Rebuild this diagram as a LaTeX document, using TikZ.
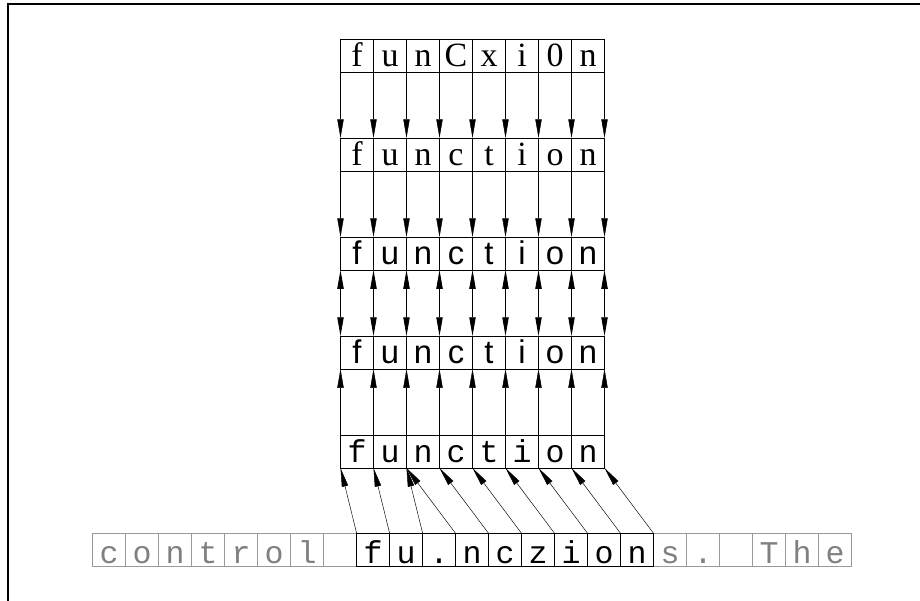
\documentclass[tikz,border=0pt]{standalone}
\usepackage{fontspec}
\usepackage{tikz}
\usetikzlibrary{arrows.meta, positioning}
\newfontfamily\serifrm{Liberation Serif}
\newfontfamily\sansrm{Liberation Sans}
\newfontfamily\monorm{Liberation Mono}

\begin{document}
\begin{tikzpicture}[
    x=0.03cm, y=-0.03cm,
    node distance=1.98cm and 0pt,
    cell/.style={rectangle, draw=black, line width=0.8pt, minimum width=0.99cm, minimum height=0.99cm, inner sep=0pt, outer sep=0pt, text height=0.83cm, text depth=0.16cm},
    serifcell/.style={cell, font=\serifrm\fontsize{29}{33}\selectfont},
    sanscell/.style={cell, font=\sansrm\fontsize{28}{33}\selectfont},
    monocell/.style={cell, font=\monorm\fontsize{27}{33}\selectfont},
    hotcell/.style={monocell, text height=0.91cm, text depth=0.08cm},
    dimcell/.style={hotcell, draw=black!40, text=black!50},
    link/.style={-{Triangle[length=16pt, width=5.4pt]}, line width=0.4pt},
    twoway/.style={{Triangle[length=16pt, width=5.4pt]}-{Triangle[length=16pt, width=5.4pt]}, line width=0.7pt}
]
\useasboundingbox (0,0) rectangle (920,601);
\draw[line width=2pt] (8,640) -- (8,4) -- (960,4);

% Row 1: noisy token
\node (noisy-1) [serifcell] at (357,55.5) {f};
\foreach \c [count=\i from 2, remember=\i as \p (initially 1)] in {u,n,C,x,i,0,n}
    \node (noisy-\i) [serifcell, right=of noisy-\p] {\c};

% Row 2: normalised token
\node (norm-1) [serifcell, below=of noisy-1] {f};
\foreach \c [count=\i from 2, remember=\i as \p (initially 1)] in {u,n,c,t,i,o,n}
    \node (norm-\i) [serifcell, right=of norm-\p] {\c};

% Rows 3 and 4: sans serif
\node (sans-1) [sanscell, below=of norm-1] {f};
\foreach \c [count=\i from 2, remember=\i as \p (initially 1)] in {u,n,c,t,i,o,n}
    \node (sans-\i) [sanscell, right=of sans-\p] {\c};
\node (sanst-1) [sanscell, below=of sans-1] {f};
\foreach \c [count=\i from 2, remember=\i as \p (initially 1)] in {u,n,c,t,i,o,n}
    \node (sanst-\i) [sanscell, right=of sanst-\p] {\c};

% Row 5: typewriter
\node (mono-1) [monocell, below=of sanst-1] {f};
\foreach \c [count=\i from 2, remember=\i as \p (initially 1)] in {u,n,c,t,i,o,n}
    \node (mono-\i) [monocell, right=of mono-\p] {\c};

% Running text (context first, token last)
\foreach \c [count=\i] in {c,o,n,t,r,o,l,{}}
    \node (txt-\i) [dimcell] at ({76.2+33*\i},550) {\c};
\foreach \c [count=\i from 18] in {s,.,{},T,h,e}
    \node (txt-\i) [dimcell] at ({76.2+33*\i},550) {\c};
\foreach \c [count=\i from 9] in {f,u,.,n,c,z,i,o,n}
    \node (txt-\i) [hotcell] at ({76.2+33*\i},550) {\c};

% Arrows between rows
\foreach \i in {1,...,8} {
    \draw [link] (noisy-\i.south west) -- (norm-\i.north west);
    \draw [link] (norm-\i.south west) -- (sans-\i.north west);
    \draw [twoway] (sans-\i.south west) -- (sanst-\i.north west);
    \draw [link] (mono-\i.north west) -- (sanst-\i.south west);
}
\draw [link] (noisy-8.south east) -- (norm-8.north east);
\draw [link] (norm-8.south east) -- (sans-8.north east);
\draw [twoway] (sans-8.south east) -- (sanst-8.north east);
\draw [link] (mono-8.north east) -- (sanst-8.south east);

% Alignment of the text to the typewriter row
\draw [link] (txt-9.north west) -- (mono-1.south west);
\draw [link] (txt-10.north west) -- (mono-2.south west);
\draw [link] (txt-11.north west) -- (mono-3.south west);
\foreach \i [count=\k from 3] in {12,...,17}
    \draw [link] (txt-\i.north west) -- (mono-\k.south west);
\draw [link] (txt-17.north east) -- (mono-8.south east);
\end{tikzpicture}
\end{document}
